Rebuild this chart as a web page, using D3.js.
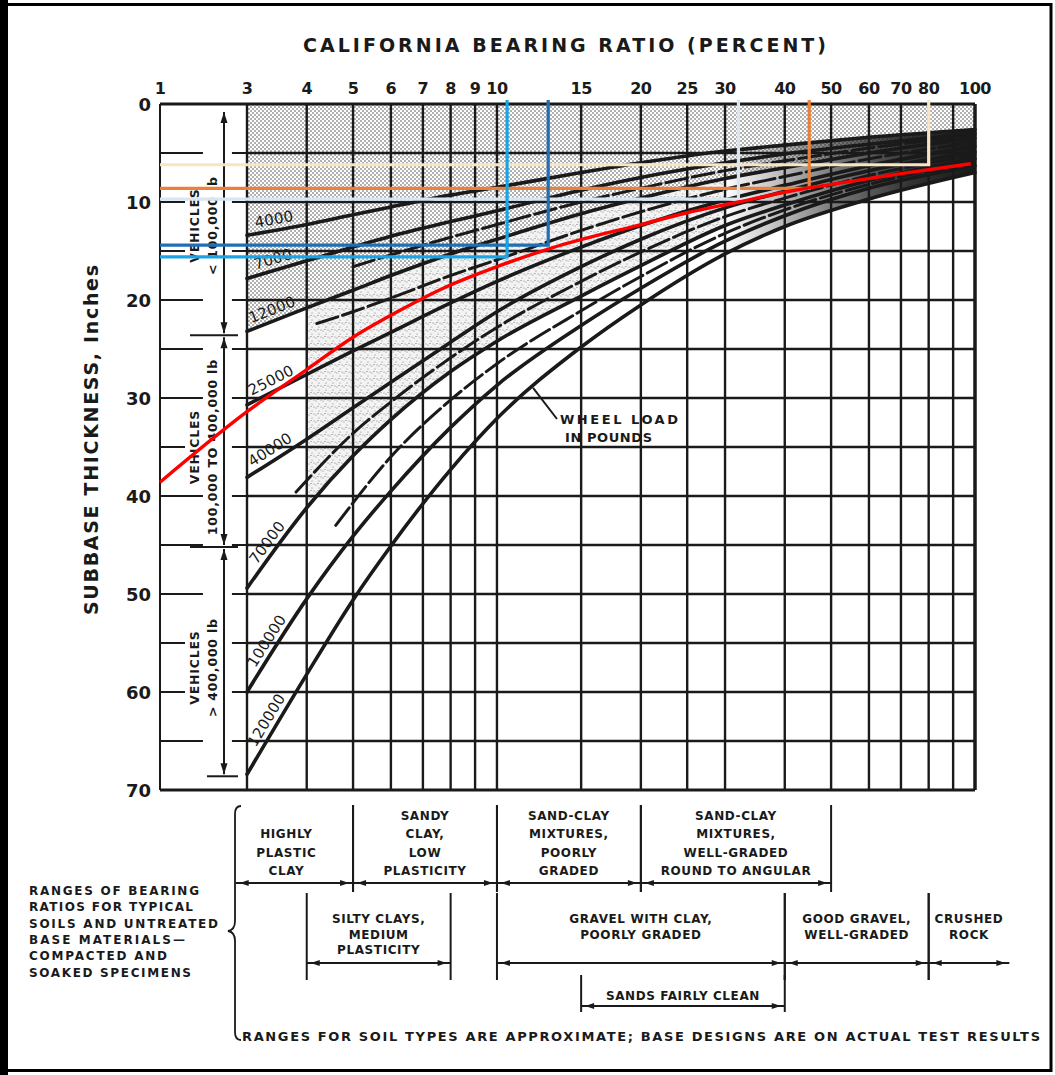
<!DOCTYPE html>
<html>
<head>
<meta charset="utf-8">
<script src="https://cdn.jsdelivr.net/npm/d3@7"></script>
<style>
  body { margin: 0; background: #fff; }
  svg { display: block; }
  text { font-family: "DejaVu Sans", "Liberation Sans", sans-serif; fill: #1a1a1a; }
</style>
</head>
<body>
<svg id="chart" width="1055" height="1075"></svg>
<script>
// ---- axis values ----
const cbrTickLabels = [1, 3, 4, 5, 6, 7, 8, 9, 10, 15, 20, 25, 30, 40, 50, 60, 70, 80, 100];
const cbrGridLines = [3, 4, 5, 6, 7, 8, 9, 10, 15, 20, 25, 30, 40, 50, 60, 70, 80, 90, 100];
const thicknessTickLabels = [0, 10, 20, 30, 40, 50, 60, 70];
const thicknessGridLines = [5, 10, 15, 20, 25, 30, 35, 40, 45, 50, 55, 60, 65];

// ---- wheel-load design curves (thickness in inches vs CBR) ----
const loadCBR = [3, 4, 5, 6, 8, 10, 15, 20, 30, 40, 60, 100];
const wheelLoads = ["4000", "7000", "12000", "25000", "40000", "70000", "100000", "120000"];
const thick4000   = [13.4, 12.3, 11.3, 10.5, 9.3, 8.5, 7.0, 6.0, 4.8, 4.2, 3.4, 2.6];
const thick7000   = [17.8, 16.0, 14.6, 13.5, 12.0, 10.9, 8.8, 7.5, 6.0, 5.1, 4.1, 3.0];
const thick12000  = [23.2, 20.8, 19.0, 17.5, 15.3, 13.8, 11.2, 9.6, 7.6, 6.5, 5.0, 3.5];
const thick25000  = [30.7, 27.6, 25.2, 23.3, 20.3, 18.1, 14.6, 12.4, 9.8, 8.3, 6.3, 4.3];
const thick40000  = [38.1, 34.2, 31.0, 28.4, 24.3, 21.2, 16.6, 13.8, 10.6, 8.9, 6.8, 4.9];
const thick70000  = [49.4, 41.2, 35.9, 32.2, 27.3, 24.2, 19.6, 16.5, 12.4, 10.3, 7.8, 5.6];
const thick100000 = [60.0, 50.5, 44.1, 39.5, 33.0, 28.7, 22.6, 18.8, 14.0, 11.4, 8.6, 6.3];
const thick120000 = [68.4, 58.2, 50.6, 45.1, 37.3, 32.1, 24.8, 20.5, 15.3, 12.5, 9.7, 7.0];
const loadThickness = [thick4000, thick7000, thick12000, thick25000, thick40000, thick70000, thick100000, thick120000];

// ---- intermediate dashed curves ----
const dashCBR_A = [5, 6, 8, 10, 15, 20, 30, 40, 60, 100];
const dashThick_A = [16.6, 15.4, 13.6, 12.3, 10.0, 8.6, 6.8, 5.8, 4.5, 3.2];
const dashCBR_B = [4.2, 5, 6, 8, 10, 15, 20, 30, 40, 60, 100];
const dashThick_B = [22.4, 21.2, 19.8, 17.5, 15.9, 12.9, 11.0, 8.7, 7.4, 5.6, 3.9];
const dashCBR_C = [3.8, 5, 6, 8, 10, 15, 20, 30, 40, 60, 100];
const dashThick_C = [39.6, 33.6, 30.4, 25.9, 22.8, 18.1, 15.1, 11.5, 9.6, 7.3, 5.2];
const dashCBR_D = [4.6, 6, 8, 10, 15, 20, 30, 40, 60, 100];
const dashThick_D = [43.0, 36.0, 30.2, 26.5, 21.1, 17.6, 13.2, 10.8, 8.2, 5.9];

// ---- red design line ----
const redCBR = [1, 3, 4, 5, 6.3, 7.8, 10, 13, 20, 25, 32, 41, 50, 70, 98];
const redThickness = [38.6, 31.4, 27.1, 23.8, 21.0, 18.7, 16.6, 14.7, 12.3, 11.1, 10.0, 8.9, 8.2, 7.1, 6.1];

// ---- coloured read-off lines (CBR, thickness) ----
const readCBR = [80, 45, 32, 12.8, 10.5];
const readThickness = [6.2, 8.6, 9.7, 14.4, 15.6];
const readColors = ["#f8e6c2", "#e8823a", "#d9e6f2", "#1f6fb6", "#1ba4e4"];

// ---- vehicle classes ----
const vehicleBounds = [0, 23.6, 45.2, 68.6];
const vehicleLines = [["VEHICLES", "< 100,000 lb"], ["VEHICLES", "100,000 TO 400,000 lb"], ["VEHICLES", "> 400,000 lb"]];

// ---- soil ranges ----
const soilLabels = [
  ["HIGHLY", "PLASTIC", "CLAY"],
  ["SANDY", "CLAY,", "LOW", "PLASTICITY"],
  ["SAND-CLAY", "MIXTURES,", "POORLY", "GRADED"],
  ["SAND-CLAY", "MIXTURES,", "WELL-GRADED", "ROUND TO ANGULAR"],
  ["SILTY CLAYS,", "MEDIUM", "PLASTICITY"],
  ["GRAVEL WITH CLAY,", "POORLY GRADED"],
  ["GOOD GRAVEL,", "WELL-GRADED"],
  ["CRUSHED", "ROCK"],
  ["SANDS FAIRLY CLEAN"]
];
const soilFromCBR = [2.6, 5, 10, 20, 4, 10, 40, 80, 15];
const soilToCBR = [5, 10, 20, 50, 8, 40, 80, 118, 40];
const soilRow = [0, 0, 0, 0, 1, 1, 1, 1, 2];
const rangeNote = ["RANGES OF BEARING", "RATIOS FOR TYPICAL", "SOILS AND UNTREATED", "BASE MATERIALS\u2014", "COMPACTED AND", "SOAKED SPECIMENS"];

// ---- scales ----
const svg = d3.select("#chart");
const x = d3.scaleLog().domain([1, 3, 100]).range([160, 247, 975]);
const y = d3.scaleLinear().domain([0, 70]).range([104, 790]);
const ink = "#1a1a1a";

function thicknessAt(cs, ts, c) {
  if (c <= cs[0]) return ts[0];
  for (let i = 0; i < cs.length - 1; i++) {
    if (c >= cs[i] && c <= cs[i + 1]) {
      const f = Math.log(c / cs[i]) / Math.log(cs[i + 1] / cs[i]);
      return ts[i] + f * (ts[i + 1] - ts[i]);
    }
  }
  return ts[ts.length - 1];
}

// ---- frame ----
svg.append("rect").attr("x", 0).attr("y", 0).attr("width", 1055).attr("height", 1075).attr("fill", "#fff");
svg.append("rect").attr("x", 4).attr("y", 4.5).attr("width", 1047).attr("height", 1066)
  .attr("fill", "none").attr("stroke", "#000").attr("stroke-width", 3);
svg.append("rect").attr("x", 0).attr("y", 0).attr("width", 8).attr("height", 1075).attr("fill", "#000");

// ---- fills ----
const defs = svg.append("defs");
const dense = defs.append("pattern").attr("id", "dense").attr("patternUnits", "userSpaceOnUse")
  .attr("width", 4).attr("height", 4);
dense.append("rect").attr("width", 4).attr("height", 4).attr("fill", "#fff");
dense.append("circle").attr("cx", 1).attr("cy", 1).attr("r", 0.75).attr("fill", "#3a3a3a");
dense.append("circle").attr("cx", 3).attr("cy", 3).attr("r", 0.75).attr("fill", "#3a3a3a");

const spray = defs.append("pattern").attr("id", "spray").attr("patternUnits", "userSpaceOnUse")
  .attr("width", 7).attr("height", 7);
spray.append("rect").attr("width", 7).attr("height", 7).attr("fill", "#f3f3f3");
[[1, 2], [4, 5], [6, 1], [3, 0.5]].forEach(p =>
  spray.append("circle").attr("cx", p[0]).attr("cy", p[1]).attr("r", 0.55).attr("fill", "#777"));

const band = defs.append("linearGradient").attr("id", "band").attr("gradientUnits", "userSpaceOnUse")
  .attr("x1", x(30)).attr("x2", x(100)).attr("y1", 0).attr("y2", 0);
band.append("stop").attr("offset", 0).attr("stop-color", ink).attr("stop-opacity", 0);
band.append("stop").attr("offset", 0.45).attr("stop-color", ink).attr("stop-opacity", 0.6);
band.append("stop").attr("offset", 0.75).attr("stop-color", ink).attr("stop-opacity", 0.9);
band.append("stop").attr("offset", 1).attr("stop-color", ink).attr("stop-opacity", 1);

const denseArea = d3.area().curve(d3.curveMonotoneX)
  .x((d, i) => x(loadCBR[i])).y0(y(0)).y1(d => y(d));
svg.append("path").datum(thick12000).attr("d", denseArea).attr("fill", "url(#dense)");

const sprayIdx = loadCBR.map((c, i) => i).filter(i => loadCBR[i] >= 4 && loadCBR[i] <= 30);
const sprayArea = d3.area().curve(d3.curveMonotoneX)
  .x(i => x(loadCBR[i])).y0(i => y(thick70000[i])).y1(i => y(thick12000[i]));
svg.append("path").datum(sprayIdx).attr("d", sprayArea).attr("fill", "url(#spray)");

// converging bundle darkens toward CBR 100
const bandIdx = loadCBR.map((c, i) => i).filter(i => loadCBR[i] >= 30);
const bandArea = d3.area().curve(d3.curveMonotoneX)
  .x(i => x(loadCBR[i])).y0(i => y(thick120000[i])).y1(i => y(thick4000[i]));
svg.append("path").datum(bandIdx).attr("d", bandArea).attr("fill", "url(#band)");

// ---- grid ----
const grid = svg.append("g").attr("stroke", ink);
grid.selectAll("line.v").data(cbrGridLines).join("line")
  .attr("x1", d => x(d)).attr("x2", d => x(d)).attr("y1", y(0)).attr("y2", y(70))
  .attr("stroke-width", 2.4);
grid.selectAll("line.h").data(thicknessGridLines).join("line")
  .attr("x1", x(3)).attr("x2", x(100)).attr("y1", d => y(d)).attr("y2", d => y(d))
  .attr("stroke-width", 2.4);
// short grid stubs in the vehicle column
const stubGap = [1.72, 2.48];
grid.selectAll("line.s1").data(thicknessGridLines).join("line")
  .attr("x1", x(1)).attr("x2", x(stubGap[0])).attr("y1", d => y(d)).attr("y2", d => y(d))
  .attr("stroke-width", 2);
grid.selectAll("line.s2").data(thicknessGridLines).join("line")
  .attr("x1", x(stubGap[1])).attr("x2", x(3)).attr("y1", d => y(d)).attr("y2", d => y(d))
  .attr("stroke-width", 2);

// plot border
svg.append("line").attr("x1", x(1)).attr("x2", x(100)).attr("y1", y(0)).attr("y2", y(0)).attr("stroke", ink).attr("stroke-width", 3);
svg.append("line").attr("x1", x(1)).attr("x2", x(100)).attr("y1", y(70)).attr("y2", y(70)).attr("stroke", ink).attr("stroke-width", 3);
svg.append("line").attr("x1", x(1)).attr("x2", x(1)).attr("y1", y(0)).attr("y2", y(70)).attr("stroke", ink).attr("stroke-width", 2);
svg.append("line").attr("x1", x(100)).attr("x2", x(100)).attr("y1", y(0)).attr("y2", y(70)).attr("stroke", ink).attr("stroke-width", 3.4);

// ---- curves ----
const curveLine = (cs) => d3.line().curve(d3.curveMonotoneX).x((d, i) => x(cs[i])).y(d => y(d));
const curves = svg.append("g").attr("fill", "none").attr("stroke", ink).attr("stroke-linecap", "round");
loadThickness.forEach(ts => {
  curves.append("path").datum(ts).attr("d", curveLine(loadCBR)).attr("stroke-width", 3.6);
});
[[dashCBR_A, dashThick_A], [dashCBR_B, dashThick_B], [dashCBR_C, dashThick_C], [dashCBR_D, dashThick_D]]
  .forEach(([cs, ts]) => {
    curves.append("path").datum(ts).attr("d", curveLine(cs)).attr("stroke-width", 3)
      .attr("stroke-dasharray", "22,5");
  });

// curve labels, set along the start of each curve
loadThickness.forEach((ts, k) => {
  const c0 = 3.05, c1 = 3.9;
  const p0 = [x(c0), y(thicknessAt(loadCBR, ts, c0))];
  const p1 = [x(c1), y(thicknessAt(loadCBR, ts, c1))];
  const ang = Math.atan2(p1[1] - p0[1], p1[0] - p0[0]);
  const cm = 3.45;
  const pm = [x(cm), y(thicknessAt(loadCBR, ts, cm))];
  const off = 11;
  const cx = pm[0] + off * Math.sin(ang), cy = pm[1] - off * Math.cos(ang);
  svg.append("text")
    .attr("transform", `translate(${cx},${cy}) rotate(${ang * 180 / Math.PI})`)
    .attr("text-anchor", "middle").attr("dominant-baseline", "central")
    .attr("font-size", 15).attr("letter-spacing", 0.2)
    .text(wheelLoads[k]);
});

// "WHEEL LOAD IN POUNDS" callout
const calloutC = 11.9;
svg.append("line").attr("x1", 557).attr("y1", 419)
  .attr("x2", x(calloutC)).attr("y2", y(thicknessAt(loadCBR, thick120000, calloutC)))
  .attr("stroke", ink).attr("stroke-width", 2);
svg.append("text").attr("x", 560).attr("y", 424).attr("font-size", 13).attr("font-weight", "bold")
  .attr("textLength", 118).attr("lengthAdjust", "spacing").text("WHEEL LOAD");
svg.append("text").attr("x", 565).attr("y", 442).attr("font-size", 13).attr("font-weight", "bold")
  .attr("textLength", 87).attr("lengthAdjust", "spacing").text("IN POUNDS");

// ---- vehicle class arrows ----
const arrowX = 224;
const veh = svg.append("g");
const vehText = veh.append("g");
const vehArrows = veh.append("g");
function arrowHead(g, xx, yy, dir) {
  g.append("path").attr("d", `M${xx},${yy} L${xx - 3.5},${yy - dir * 11} L${xx + 3.5},${yy - dir * 11} Z`).attr("fill", ink);
}
for (let k = 0; k < 3; k++) {
  const yTop = y(vehicleBounds[k]) + (k === 0 ? 8 : 2);
  const yBot = y(vehicleBounds[k + 1]) - 2;
  vehArrows.append("line").attr("x1", arrowX).attr("x2", arrowX).attr("y1", yTop).attr("y2", yBot)
    .attr("stroke", ink).attr("stroke-width", 2);
  arrowHead(vehArrows, arrowX, yTop, -1);
  arrowHead(vehArrows, arrowX, yBot, 1);
  const midY = (y(vehicleBounds[k]) + y(vehicleBounds[k + 1])) / 2 + 6;
  vehicleLines[k].forEach((s, j) => {
    const tf = `translate(${199 + j * 18},${midY}) rotate(-90)`;
    const knock = vehText.append("rect").attr("transform", tf).attr("fill", "#fff");
    const t = vehText.append("text").attr("transform", tf)
      .attr("text-anchor", "middle").attr("font-size", 12.5).attr("font-weight", "bold")
      .attr("letter-spacing", 0.8).text(s);
    const bb = t.node().getBBox();
    knock.attr("x", bb.x - 3).attr("y", bb.y - 2).attr("width", bb.width + 6).attr("height", bb.height + 3);
  });
}
vehicleBounds.slice(1).forEach((b, k) => {
  const last = k === vehicleBounds.length - 2;
  vehArrows.append("line").attr("x1", last ? 207 : 190).attr("x2", 238).attr("y1", y(b)).attr("y2", y(b))
    .attr("stroke", ink).attr("stroke-width", 2);
});

// ---- axis labels ----
svg.append("g").selectAll("text").data(cbrTickLabels).join("text")
  .attr("x", d => x(d)).attr("y", 94).attr("text-anchor", "middle")
  .attr("font-size", 16).attr("font-weight", "bold").attr("letter-spacing", -0.5).text(d => d);
svg.append("g").selectAll("text").data(thicknessTickLabels).join("text")
  .attr("x", 151).attr("y", d => y(d)).attr("text-anchor", "end").attr("dominant-baseline", "central")
  .attr("font-size", 18).attr("font-weight", "bold").text(d => d);
svg.append("text").attr("x", 303).attr("y", 52).attr("font-size", 19).attr("font-weight", "bold")
  .attr("textLength", 523).attr("lengthAdjust", "spacing").text("CALIFORNIA BEARING RATIO (PERCENT)");
svg.append("text").attr("transform", "translate(98,615) rotate(-90)").attr("font-size", 19).attr("font-weight", "bold")
  .attr("textLength", 350).attr("lengthAdjust", "spacing").text("SUBBASE THICKNESS, Inches");

// ---- read-off lines and red design line ----
const overlay = svg.append("g").attr("fill", "none").attr("stroke-width", 3.2);
readCBR.forEach((c, i) => {
  overlay.append("path")
    .attr("d", `M${x(1)},${y(readThickness[i])} H${x(c)} V${y(0) - 4}`)
    .attr("stroke", readColors[i]);
});
overlay.append("path").datum(redThickness)
  .attr("d", curveLine(redCBR)).attr("stroke", "#ff0000").attr("stroke-width", 3.4);

// ---- soil ranges ----
const rowArrowY = [883, 963, 1006];
const rowTickSpan = [[805, 892], [893, 980], [975, 1012]];
const soil = svg.append("g");
function sideHead(g, xx, yy, dir) {
  g.append("path").attr("d", `M${xx},${yy} L${xx - dir * 9},${yy - 3} L${xx - dir * 9},${yy + 3} Z`).attr("fill", ink);
}
soilLabels.forEach((lines, i) => {
  const r = soilRow[i];
  const x0 = x(soilFromCBR[i]), x1 = x(soilToCBR[i]);
  const ay = rowArrowY[r];
  soil.append("line").attr("x1", x0).attr("x2", x1).attr("y1", ay).attr("y2", ay)
    .attr("stroke", ink).attr("stroke-width", 1.8);
  sideHead(soil, x0 + 4, ay, -1);
  sideHead(soil, x1 - 4, ay, 1);
  if (i !== 0) {
    soil.append("line").attr("x1", x0).attr("x2", x0).attr("y1", rowTickSpan[r][0]).attr("y2", rowTickSpan[r][1])
      .attr("stroke", ink).attr("stroke-width", 2);
  }
  if (i !== 7) {
    soil.append("line").attr("x1", x1).attr("x2", x1).attr("y1", rowTickSpan[r][0]).attr("y2", rowTickSpan[r][1])
      .attr("stroke", ink).attr("stroke-width", 2);
  }
  const cx = (x0 + x1) / 2 - (i === 0 ? 8 : 0);
  lines.forEach((s, j) => {
    let by;
    if (r === 0) by = 875 - (lines.length - 1 - j) * 18.5;
    else if (r === 1) by = 923 + j * 15.5;
    else by = 1000;
    soil.append("text").attr("x", cx).attr("y", by).attr("text-anchor", "middle")
      .attr("font-size", 12).attr("font-weight", "bold").attr("letter-spacing", 0.6).text(s);
  });
});
// brace
soil.append("path")
  .attr("d", "M241,806 Q235,806 235,814 L235,921 Q235,930 228,931 Q235,932 235,941 L235,1032 Q235,1040 241,1040")
  .attr("fill", "none").attr("stroke", ink).attr("stroke-width", 1.8);
rangeNote.forEach((s, j) => {
  const widths = [170, 164, 189, 156, 138, 162];
  soil.append("text").attr("x", 29).attr("y", 895 + j * 16.3).attr("font-size", 12).attr("font-weight", "bold")
    .attr("textLength", widths[j]).attr("lengthAdjust", "spacing").text(s);
});
soil.append("text").attr("x", 242).attr("y", 1041).attr("font-size", 13).attr("font-weight", "bold")
  .attr("textLength", 798).attr("lengthAdjust", "spacing")
  .text("RANGES FOR SOIL TYPES ARE APPROXIMATE; BASE DESIGNS ARE ON ACTUAL TEST RESULTS");
</script>
</body>
</html>
